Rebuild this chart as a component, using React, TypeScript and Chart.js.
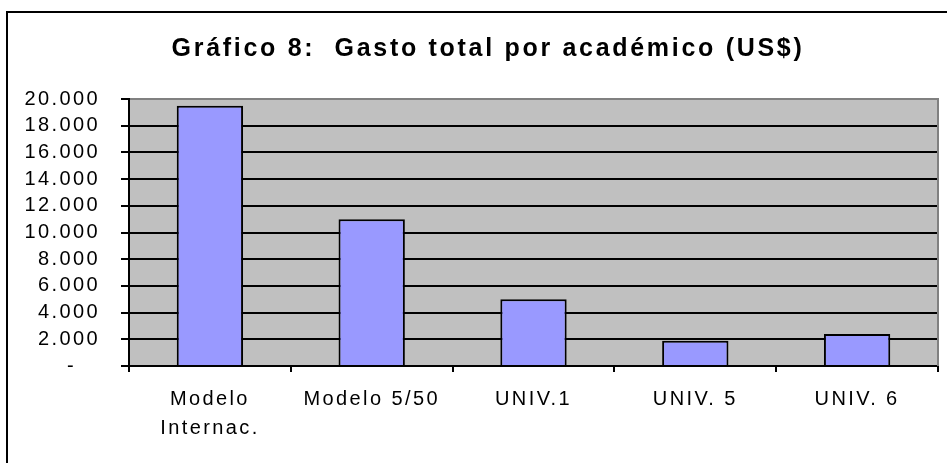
import React, { useEffect, useRef } from 'react';
import { Chart, registerables } from 'chart.js';

Chart.register(...registerables);

const TITLE = 'Gráfico 8:  Gasto total por académico (US$)';
const categories: (string | string[])[] = [['Modelo', 'Internac.'], 'Modelo 5/50', 'UNIV.1', 'UNIV. 5', 'UNIV. 6'];
const values: number[] = [19500, 11000, 5000, 1900, 2400];
const yTickLabels: string[] = ['-   ', '2.000', '4.000', '6.000', '8.000', '10.000', '12.000', '14.000', '16.000', '18.000', '20.000'];
const Y_MIN = 0;
const Y_MAX = 20000;
const Y_STEP = 2000;

const FONT = '"Liberation Sans", Arial, sans-serif';
const SPACING = '2.4px';

const framePlugin = {
  id: 'frame',
  beforeUpdate(chart: any) {
    chart.ctx.letterSpacing = SPACING;
  },
  beforeDraw(chart: any) {
    const { ctx, chartArea: a } = chart;
    ctx.save();
    ctx.fillStyle = '#ffffff';
    ctx.fillRect(0, 0, chart.width, chart.height);
    ctx.fillStyle = '#C0C0C0';
    ctx.fillRect(a.left, a.top, a.right - a.left, a.bottom - a.top);
    ctx.restore();
    ctx.letterSpacing = SPACING;
  },
  afterDraw(chart: any) {
    const { ctx, chartArea: a } = chart;
    ctx.save();
    ctx.strokeStyle = '#808080';
    ctx.lineWidth = 2;
    ctx.beginPath();
    ctx.moveTo(a.right, a.top - 1);
    ctx.lineTo(a.right, a.bottom);
    ctx.stroke();
    ctx.strokeStyle = '#000000';
    ctx.strokeRect(7, 12, 1000, 1000);
    ctx.letterSpacing = '2.7px';
    ctx.font = 'bold 25px ' + FONT;
    ctx.fillStyle = '#000000';
    ctx.textAlign = 'center';
    ctx.textBaseline = 'alphabetic';
    ctx.fillText(TITLE, 488, 56);
    ctx.restore();
  },
};

export default function App() {
  const ref = useRef<HTMLCanvasElement | null>(null);
  useEffect(() => {
    if (!ref.current) return;
    const chart = new Chart(ref.current, {
      type: 'bar',
      data: {
        labels: categories,
        datasets: [
          {
            data: values,
            backgroundColor: '#9999FF',
            borderColor: '#000000',
            borderWidth: 2,
            barPercentage: 0.41,
            categoryPercentage: 1,
          },
        ],
      },
      options: {
        animation: false,
        responsive: false,
        maintainAspectRatio: false,
        devicePixelRatio: 1,
        layout: { padding: { top: 99, right: 9, bottom: 0, left: 0 } },
        plugins: {
          legend: { display: false },
          title: { display: false },
          tooltip: { enabled: false },
        },
        scales: {
          x: {
            grid: { offset: true, drawOnChartArea: false, drawTicks: true, tickLength: 6, color: '#000000', lineWidth: 2 },
            border: { color: '#000000', width: 2 },
            ticks: {
              color: '#000000',
              font: { family: FONT, size: 20, lineHeight: 1.435 },
              padding: 13,
              maxRotation: 0,
              autoSkip: false,
            },
            afterFit: (s: any) => {
              s.height = 97;
            },
          },
          y: {
            min: Y_MIN,
            max: Y_MAX,
            ticks: {
              stepSize: Y_STEP,
              autoSkip: false,
              maxTicksLimit: 30,
              callback: (_v: any, i: number) => yTickLabels[i],
              color: '#000000',
              font: { family: FONT, size: 20, lineHeight: 1 },
              padding: 21,
            },
            grid: {
              color: (c: any) => (c.tick && c.tick.value === Y_MAX ? '#808080' : '#000000'),
              tickColor: '#000000',
              lineWidth: 2,
              tickLength: 8,
            },
            border: { color: '#000000', width: 2 },
            afterFit: (s: any) => {
              s.width = 129;
            },
          },
        },
      } as any,
      plugins: [framePlugin],
    });
    return () => chart.destroy();
  }, []);
  return (
    <div style={{ position: 'absolute', left: 0, top: 0, width: 947, height: 463, overflow: 'hidden' }}>
      <canvas ref={ref} width={947} height={463} style={{ display: 'block', width: 947, height: 463 }} />
    </div>
  );
}
